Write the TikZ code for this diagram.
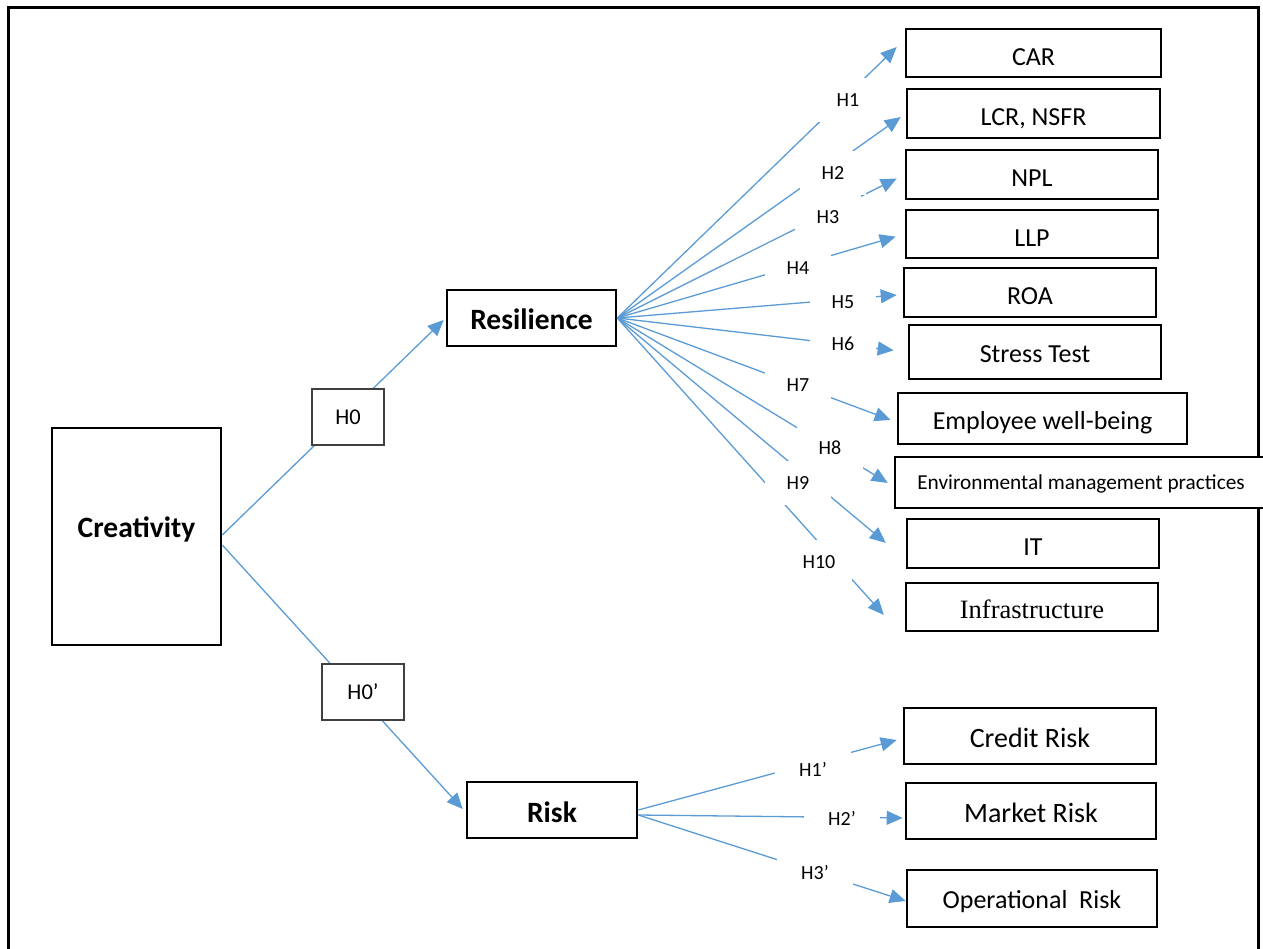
\documentclass[tikz,border=0pt]{standalone}
\usepackage{fontspec}
\setmainfont{Carlito}
\newfontfamily\timesfont{Liberation Serif}
\usetikzlibrary{arrows.meta}
\definecolor{linkblue}{HTML}{5B9BD5}
\definecolor{hgray}{HTML}{404040}
\begin{document}
\begin{tikzpicture}[x=1pt,y=-1pt,
  box/.style={draw=black,line width=2.6pt,fill=white,inner sep=0pt,text height=24.8pt,text depth=0pt,font=\fontsize{26}{30}\selectfont},
  bbox/.style={box,font=\bfseries\fontsize{29.5}{33}\selectfont},
  bigbox/.style={box,text height=22pt,font=\fontsize{28}{32}\selectfont},
  hbox/.style={draw=hgray,line width=1.4pt,fill=white,inner sep=0pt,minimum height=56pt,font=\fontsize{22.5}{26}\selectfont},
  hlab/.style={fill=white,inner sep=0pt,minimum width=66pt,minimum height=44pt,font=\fontsize{20}{24}\selectfont},
  hlabp/.style={hlab,minimum width=76pt},
  conn/.style={draw=linkblue,line width=1.3pt},
  arr/.style={conn,-{Triangle[length=16pt,width=14pt]}},
]
\useasboundingbox (0,0) rectangle (1263,949);
% outer frame
\draw[line width=3pt] (8,955) -- (8,8) -- (1258,8) -- (1258,955);

% main boxes
\node[bbox,text height=10pt,text depth=9pt,minimum width=169pt,minimum height=217pt] (creat) at (136.5,536.5) {Creativity};
\node[bbox,text height=23pt,minimum width=169pt,minimum height=56pt] (res) at (531.5,318) {Resilience};
\node[bbox,text height=25pt,minimum width=170pt,minimum height=56pt] (risk) at (552,810) {Risk};

% resilience targets
\node[box,minimum width=255pt,minimum height=48pt] (car) at (1033.5,53) {CAR};
\node[box,minimum width=253pt,minimum height=49pt] (lcr) at (1033.5,113.5) {LCR, NSFR};
\node[box,minimum width=252pt,minimum height=49pt] (npl) at (1032,174.5) {NPL};
\node[box,minimum width=252pt,minimum height=48pt] (llp) at (1032,234) {LLP};
\node[box,minimum width=252pt,minimum height=49pt] (roa) at (1030,292.5) {ROA};
\node[box,text height=21pt,minimum width=252pt,minimum height=54pt] (stress) at (1035,352) {Stress Test};
\node[box,text height=22pt,minimum width=289pt,minimum height=51pt] (emp) at (1042.5,418.5) {Employee well-being};
\node[box,text height=13.7pt,minimum width=372pt,minimum height=51pt,font=\fontsize{21.3}{25}\selectfont] (env) at (1081,482.5) {Environmental management practices};
\node[box,minimum width=252pt,minimum height=49pt] (it) at (1033,543.5) {IT};
\node[box,text height=23.6pt,minimum width=252pt,minimum height=48pt,font=\timesfont\fontsize{26.5}{30}\selectfont] (infra) at (1032,607) {Infrastructure};

% risk targets
\node[bigbox,minimum width=252pt,minimum height=56pt] (credit) at (1030,736) {Credit Risk};
\node[bigbox,minimum width=250pt,minimum height=56pt] (market) at (1031,811) {Market Risk};
\node[box,text height=20.8pt,minimum width=250pt,minimum height=57pt] (oper) at (1032,898.5) {Operational\ \ Risk};

% connectors
\draw[arr,shorten >=2.8pt] ([yshift=1.5pt]creat.east) -- (res.west);
\draw[arr,shorten >=4.4pt] ([yshift=-8.5pt]creat.east) -- ([yshift=-2.3pt]risk.west);

\draw[arr,shorten >=11.1pt] (res.east) -- ([yshift=13.7pt]car.west);
\draw[arr,shorten >=6.1pt] (res.east) -- (lcr.west);
\draw[arr,shorten >=8.9pt] (res.east) -- (npl.west);
\draw[arr,shorten >=9.4pt] (res.east) -- (llp.west);
\draw[arr,shorten >=6pt] (res.east) -- ([yshift=-2pt]roa.west);
\draw[arr,shorten >=14.1pt] (res.east) -- (stress.west);
\draw[arr,shorten >=6.4pt] (res.east) -- ([yshift=-3.7pt]emp.west);
\draw[arr,shorten >=7pt] (res.east) -- ([yshift=-4.1pt]env.west);
\draw[arr,shorten >=26pt] (res.east) -- ([yshift=-16.1pt]it.west);
\draw[arr,shorten >=31.3pt] (res.east) -- ([yshift=-31.2pt]infra.west);

\draw[arr,shorten >=6.2pt] (risk.east) -- ([yshift=-2.4pt]credit.west);
\draw[arr,shorten >=2pt] ([yshift=-5pt]risk.east) -- ([yshift=-7pt]market.west);
\draw[arr] ([yshift=-5pt]risk.east) -- ([yshift=-2.5pt]oper.west);

% hypothesis boxes and labels
\node[hbox,minimum width=72pt] (h0) at (348,417) {H0};
\node[hbox,minimum width=82pt] (h0p) at (363,692) {H0’};

\node[hlab] (l1) at (848,100) {H1};
\node[hlab] (l2) at (833,173) {H2};
\node[hlab] (l3) at (828,217) {H3};
\node[hlab] (l4) at (798,268) {H4};
\node[hlab] (l5) at (843,302) {H5};
\node[hlab] (l6) at (843,344) {H6};
\node[hlab] (l7) at (798,385) {H7};
\node[hlab] (l8) at (830,448) {H8};
\node[hlab] (l9) at (798,483) {H9};
\node[hlab] (l10) at (819,562) {H10};
\node[hlabp] (r1) at (813,769) {H1’};
\node[hlabp] (r2) at (842,818) {H2’};
\node[hlabp] (r3) at (815,873) {H3’};
\end{tikzpicture}
\end{document}
